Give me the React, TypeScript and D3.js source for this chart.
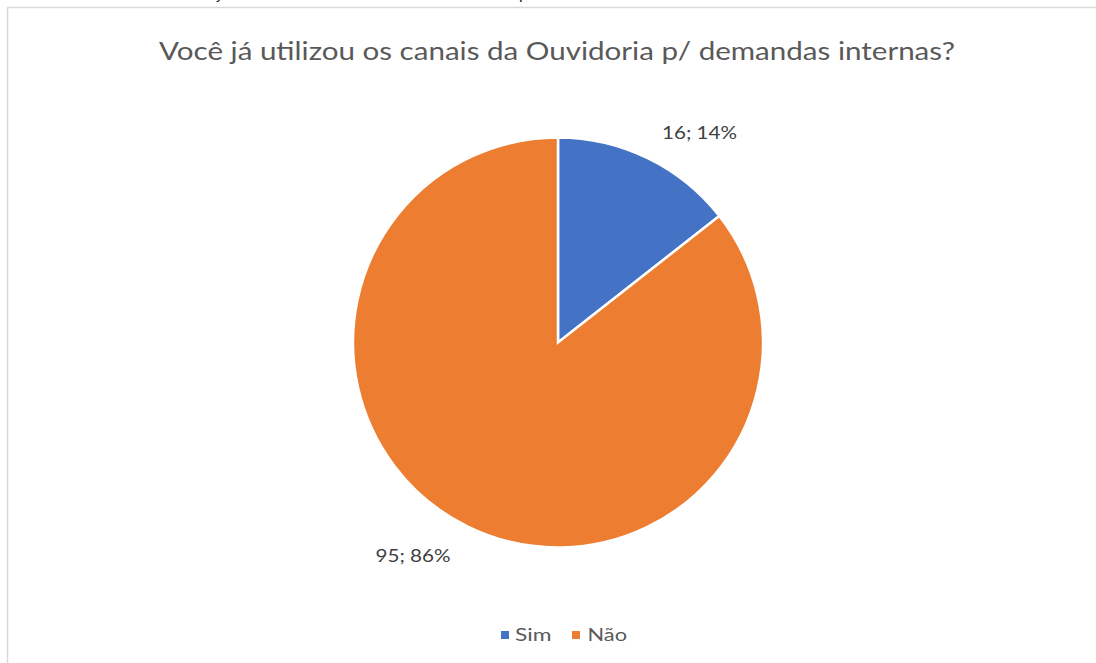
import React from "react";
import * as d3 from "d3";

const categories = ["Sim", "Não"];
const values = [16, 95];
const percents = ["14%", "86%"];
const colors = ["#4472C4", "#ED7D31"];
const title = "Você já utilizou os canais da Ouvidoria p/ demandas internas?";

const W = 1096;
const H = 663;
const FONT = "Lato, 'Open Sans', 'Liberation Sans', sans-serif";

export default function App() {
  const cx = 558;
  const cy = 342.5;
  const r = 205;
  const pie = d3.pie<number>().sort(null).value((d) => d);
  const arcs = pie(values);
  const arcGen = d3.arc<d3.PieArcDatum<number>>().innerRadius(0).outerRadius(r);
  const labelPos = [
    { x: 699.5, y: 139 },
    { x: 413, y: 562.3 },
  ];
  const legendItems = [
    { sq: 501, tx: 515, w: 36.5 },
    { sq: 572, tx: 587.5, w: 39.5 },
  ];
  return (
    <svg
      width={W}
      height={H}
      style={{ position: "absolute", left: 0, top: 0, display: "block", background: "#fff" }}
    >
      <rect x={0} y={0} width={W} height={H} fill="#fff" />
      {/* partially visible text above the chart frame */}
      <text x={217} y={-1} fontFamily={FONT} fontSize={16} fill="#222">j</text>
      <text x={519} y={-1} fontFamily={FONT} fontSize={16} fill="#222">p</text>
      <rect x={7.5} y={7.5} width={W + 20} height={H + 20} fill="#fff" stroke="#d9d9d9" strokeWidth={1.5} />
      <text
        x={159}
        y={59.5}
        fontFamily={FONT}
        fontSize={25.5}
        fill="#595959"
        textLength={796}
        lengthAdjust="spacingAndGlyphs"
      >
        {title}
      </text>
      <g transform={`translate(${cx},${cy})`}>
        {arcs.map((a, i) => (
          <path key={i} d={arcGen(a) || ""} fill={colors[i]} stroke="#fff" strokeWidth={2.5} strokeLinejoin="miter" />
        ))}
      </g>
      {arcs.map((a, i) => (
        <text
          key={i}
          x={labelPos[i].x}
          y={labelPos[i].y}
          textAnchor="middle"
          fontFamily={FONT}
          fontSize={17}
          fill="#404040"
          textLength={75}
          lengthAdjust="spacingAndGlyphs"
        >
          {`${values[i]}; ${percents[i]}`}
        </text>
      ))}
      {categories.map((c, i) => (
        <g key={c}>
          <rect x={legendItems[i].sq} y={631} width={8} height={8} fill={colors[i]} />
          <text
            x={legendItems[i].tx}
            y={640.7}
            fontFamily={FONT}
            fontSize={17}
            fill="#595959"
            textLength={legendItems[i].w}
            lengthAdjust="spacingAndGlyphs"
          >
            {c}
          </text>
        </g>
      ))}
    </svg>
  );
}
